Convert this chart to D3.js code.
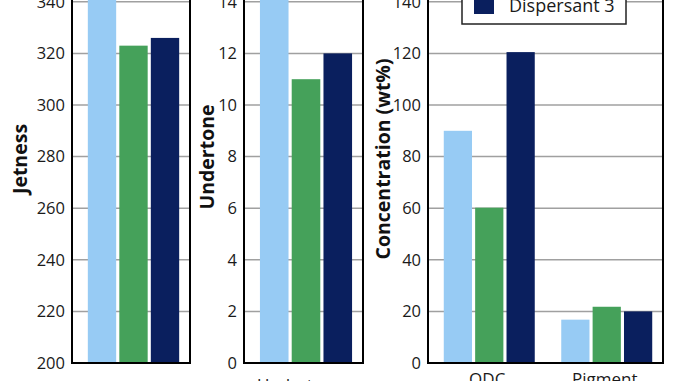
<!DOCTYPE html>
<html><head><meta charset="utf-8">
<script src="https://cdn.jsdelivr.net/npm/d3@7"></script>
<style>
html,body{margin:0;padding:0;background:#fff;overflow:hidden;}
svg{display:block;font-family:"Open Sans",sans-serif;}
</style></head>
<body>
<svg id="chart" width="678" height="381"></svg>
<script>
const series = ["Dispersant 1", "Dispersant 2", "Dispersant 3"];
const colors = ["#97cbf4", "#45a15a", "#0a1f5e"];

const jetCategories = ["Jetness"];
const jetValues = [[365], [323], [326]];
const jetTicks = [200, 220, 240, 260, 280, 300, 320, 340];

const underCategories = ["Undertone"];
const underValues = [[15.5], [11], [12]];
const underTicks = [0, 2, 4, 6, 8, 10, 12, 14];

const concCategories = ["ODC", "Pigment"];
const concValues = [[90, 16.8], [60.2, 21.8], [120.5, 20]];
const concTicks = [0, 20, 40, 60, 80, 100, 120, 140];

const svg = d3.select("#chart");

function panel(opt) {
  const g = svg.append("g");
  const y = d3.scaleLinear().domain(opt.domain).range([363, 363 - 8 * 51.6]);
  const x0 = d3.scaleBand().domain(opt.cats).range([opt.left + 2.5, opt.right + 2.5])
    .paddingInner(0.2255).paddingOuter(0.113);
  const x1 = d3.scaleBand().domain(series).range([0, x0.bandwidth()])
    .paddingInner(0.1).paddingOuter(0);
  // gridlines
  g.append("g").selectAll("line").data(opt.ticks.filter(t => t !== opt.domain[0])).join("line")
    .attr("x1", opt.left).attr("x2", opt.right)
    .attr("y1", d => y(d)).attr("y2", d => y(d))
    .attr("stroke", "#a0a0a0").attr("stroke-width", 1.5);
  // bars
  opt.cats.forEach((c, ci) => {
    series.forEach((s, si) => {
      const v = opt.values[si][ci];
      g.append("rect")
        .attr("x", x0(c) + x1(s))
        .attr("width", x1.bandwidth())
        .attr("y", y(v))
        .attr("height", y(opt.domain[0]) - y(v))
        .attr("fill", colors[si]);
    });
  });
  // frame
  g.append("rect").attr("x", opt.left).attr("y", y(opt.domain[1]))
    .attr("width", opt.right - opt.left).attr("height", y(opt.domain[0]) - y(opt.domain[1]))
    .attr("fill", "none").attr("stroke", "#000").attr("stroke-width", 2);
  // y axis
  const ax = g.append("g").attr("transform", `translate(${opt.left},0)`)
    .call(d3.axisLeft(y).tickValues(opt.ticks).tickSize(0).tickPadding(7).tickFormat(d3.format("d")));
  ax.select(".domain").remove();
  ax.selectAll("text").attr("font-size", 16.5).attr("fill", "#1a1a1a")
    .attr("font-family", "Open Sans, sans-serif");
  // y title
  g.append("text")
    .attr("transform", `translate(${opt.titleX},${opt.titleY}) rotate(-90)`)
    .attr("text-anchor", "middle").attr("font-weight", "bold").attr("font-size", 19.5)
    .attr("fill", "#111").text(opt.title);
  // x labels
  opt.cats.forEach(c => {
    g.append("text")
      .attr("x", opt.xlabAnchor === "start" ? opt.xlabX : x0(c) + x0.bandwidth() / 2 - 2)
      .attr("y", opt.xlabY)
      .attr("text-anchor", opt.xlabAnchor || "middle")
      .attr("font-size", 17).attr("fill", "#1a1a1a").text(c);
  });
  return {g, y};
}

panel({left: 72, right: 190, domain: [200, 360], ticks: jetTicks, cats: jetCategories,
  values: jetValues, title: "Jetness", titleX: 27, titleY: 159,
  xlabAnchor: "start", xlabX: 101, xlabY: 393});
panel({left: 244, right: 363, domain: [0, 16], ticks: underTicks, cats: underCategories,
  values: underValues, title: "Undertone", titleX: 214, titleY: 157,
  xlabAnchor: "start", xlabX: 257, xlabY: 391});
panel({left: 428, right: 663, domain: [0, 160], ticks: concTicks, cats: concCategories,
  values: concValues, title: "Concentration (wt%)", titleX: 390, titleY: 159,
  xlabY: 385});

// legend
const lg = svg.append("g");
const legX = 462, legRight = 626, legBottom = 24, rowH = 23;
lg.append("rect").attr("x", legX).attr("y", legBottom - rowH * 3 - 6)
  .attr("width", legRight - legX).attr("height", rowH * 3 + 6)
  .attr("fill", "#fff").attr("stroke", "#222").attr("stroke-width", 1.5);
series.forEach((s, i) => {
  const base = 12 - (series.length - 1 - i) * rowH;
  lg.append("rect").attr("x", 474).attr("y", base - 18).attr("width", 20).attr("height", 20)
    .attr("fill", colors[i]);
  lg.append("text").attr("x", 509).attr("y", base).attr("font-size", 18)
    .attr("fill", "#1a1a1a").text(s);
});
</script>
</body></html>
